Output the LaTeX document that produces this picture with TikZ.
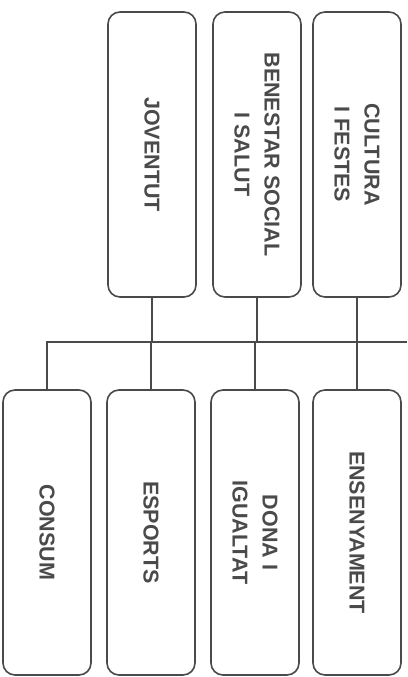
\documentclass[tikz,border=0pt]{standalone}
\usepackage{fontspec}
\setmainfont{Liberation Sans}
\definecolor{orgline}{HTML}{4A4A4A}
\definecolor{orgtext}{HTML}{4A4A4A}
\tikzset{
  dept/.style = {rectangle, rounded corners=12pt, draw=orgline, line width=1.6pt,
                 fill=white, rotate=-90, minimum width=285pt, minimum height=88pt,
                 font=\fontsize{21.5}{30}\selectfont\bfseries, text=orgtext, align=center},
  ln/.style   = {draw=orgline, line width=1.6pt},
}

\begin{document}
\begin{tikzpicture}[x=1pt,y=-1pt]
  \useasboundingbox (0,0) rectangle (407,677);
  % upper row
  \node[dept] (jov) at (152,154.5) {JOVENTUT};
  \node[dept] (ben) at (257,154.5) {BENESTAR SOCIAL\\I SALUT};
  \node[dept] (cul) at (357,154.5) {CULTURA\\I FESTES};
  % lower row
  \node[dept] (cons) at (47,532.5) {CONSUM};
  \node[dept] (esp) at (151,532.5) {ESPORTS};
  \node[dept] (dona) at (255,532.5) {DONA I\\IGUALTAT};
  \node[dept] (ens) at (357,532.5) {ENSENYAMENT};
  % bus line, runs off the right edge
  \coordinate (bus) at (407,342);
  \draw[ln] (cons.west) |- (bus);
  \foreach \t in {jov,ben,cul} \draw[ln] (\t.east) -- (\t.east |- bus);
  \foreach \t in {esp,dona,ens} \draw[ln] (\t.west) -- (\t.west |- bus);
\end{tikzpicture}
\end{document}
